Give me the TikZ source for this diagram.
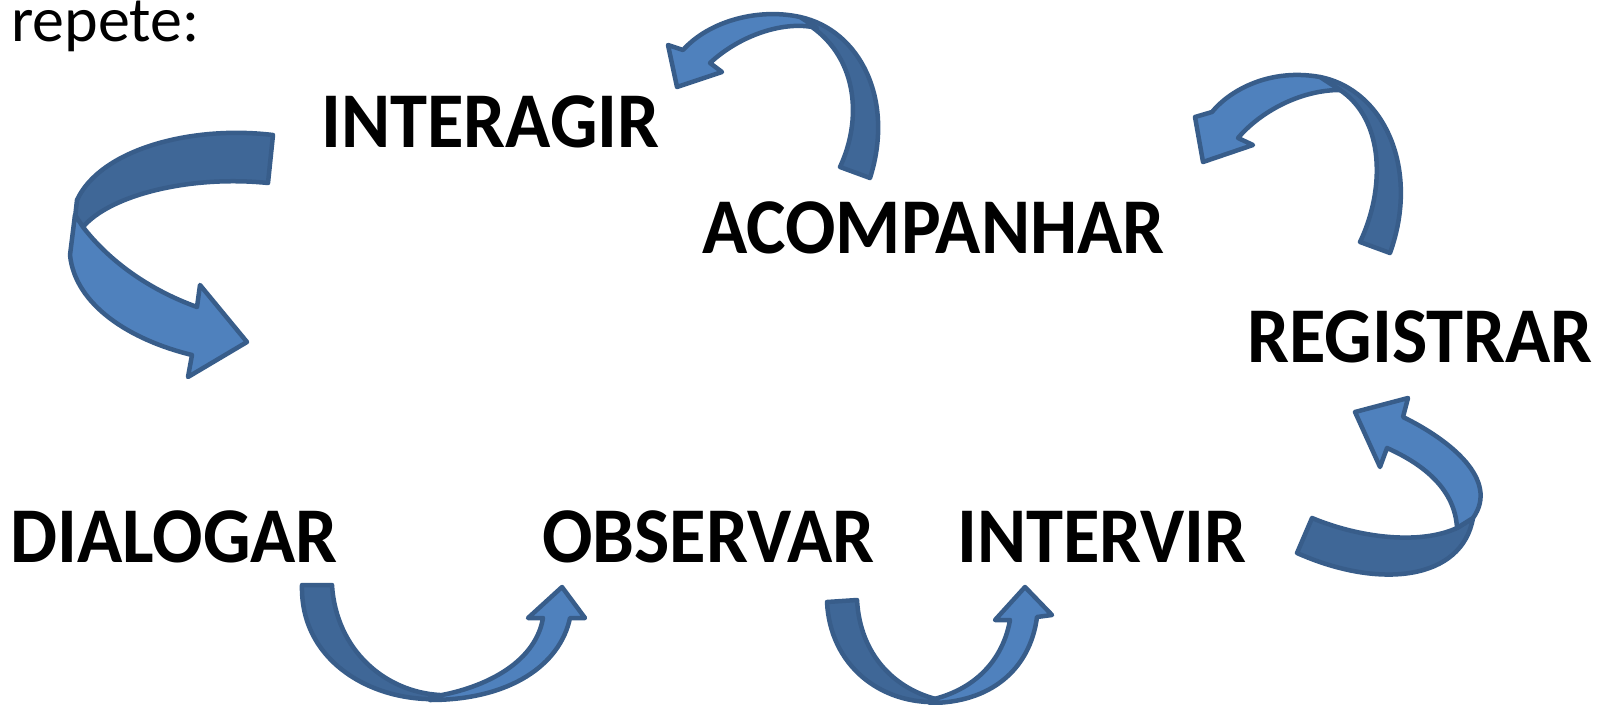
\documentclass[tikz,border=0pt]{standalone}
\usepackage{fontspec}
\setmainfont{Carlito}
\definecolor{lightblue}{HTML}{4F81BD}
\definecolor{darkblue}{HTML}{3F6797}
\definecolor{edgeblue}{HTML}{385D8A}
\newcommand{\narrowword}[1]{\scalebox{0.945}[1]{#1}}
\begin{document}
\begin{tikzpicture}[x=1pt,y=-1pt,
  word/.style={anchor=base west,inner sep=0pt,font=\fontsize{79}{80}\selectfont\bfseries},
  back/.style={fill=darkblue,draw=edgeblue,line width=4.5pt,line join=round},
  front/.style={fill=lightblue,draw=edgeblue,line width=4.5pt,line join=round}]
\useasboundingbox (0,0) rectangle (1608,704);
% texts
\node[anchor=base west,inner sep=0pt,font=\fontsize{64}{64}\selectfont] (rep) at (11,41) {repete:};
\node[word] (interagir) at (321,147) {\narrowword{INTERAGIR}};
\node[word] (acomp) at (702,253) {\narrowword{ACOMPANHAR}};
\node[word] (regis) at (1247,362) {\narrowword{REGISTRAR}};
\node[word] (dialog) at (10,562) {\narrowword{DIALOGAR}};
\node[word] (observ) at (542,562) {\narrowword{OBSERVAR}};
\node[word] (interv) at (957,562) {\narrowword{INTERVIR}};
% arrow A
\draw[back] (273,135) .. controls (190,125) and (100,150) .. (77,200) -- (75,218) -- (83,227) .. controls (110,195) and (190,175) .. (268,183) -- cycle;
\draw[front] (75,215) -- (83,227) .. controls (110,262) and (150,290) .. (197,307) -- (200,285) -- (247,342) -- (188,377) -- (192,355) .. controls (130,340) and (75,305) .. (70,255) -- cycle;
% arrow B
\draw[back] (840,167) .. controls (862,120) and (858,60) .. (812,27) -- (800,17) .. controls (860,30) and (895,100) .. (870,178) -- cycle;
\draw[front] (800,17) .. controls (760,8) and (710,20) .. (683,50) -- (668,45) -- (677,87) -- (722,72) -- (710,63) .. controls (740,35) and (785,20) .. (817,28) -- cycle;
% arrow C
\draw[back] (1360,242) .. controls (1385,190) and (1385,120) .. (1340,90) -- (1320,77) .. controls (1385,90) and (1420,170) .. (1390,253) -- cycle;
\draw[front] (1320,77) .. controls (1270,68) and (1230,90) .. (1212,112) -- (1195,117) -- (1203,162) -- (1253,145) -- (1238,138) .. controls (1260,112) and (1300,90) .. (1340,90) -- cycle;
% arrow D
\draw[back] (1312,518) .. controls (1360,538) and (1420,545) .. (1457,528) -- (1473,518) .. controls (1462,580) and (1380,590) .. (1297,553) -- cycle;
\draw[front] (1457,528) .. controls (1455,490) and (1425,465) .. (1387,448) -- (1380,467) -- (1355,412) -- (1408,398) -- (1403,417) .. controls (1450,440) and (1500,480) .. (1473,518) -- cycle;
% arrow E
\draw[back] (302,585) -- (332,585) .. controls (336,650) and (385,692) .. (440,695) -- (440,699) .. controls (370,702) and (300,660) .. (302,585) -- cycle;
\draw[front] (430,697) .. controls (480,690) and (535,665) .. (543,618) -- (528,618) -- (562,587) -- (585,618) -- (570,618) .. controls (560,665) and (510,700) .. (430,700) -- cycle;
% arrow F
\draw[back] (827,602) -- (857,600) .. controls (860,655) and (895,690) .. (940,700) -- (940,702) .. controls (880,705) and (830,665) .. (827,602) -- cycle;
\draw[front] (930,700) .. controls (975,690) and (1003,660) .. (1010,620) -- (995,620) -- (1025,587) -- (1052,615) -- (1037,617) .. controls (1030,670) and (990,703) .. (930,703) -- cycle;
\end{tikzpicture}
\end{document}
